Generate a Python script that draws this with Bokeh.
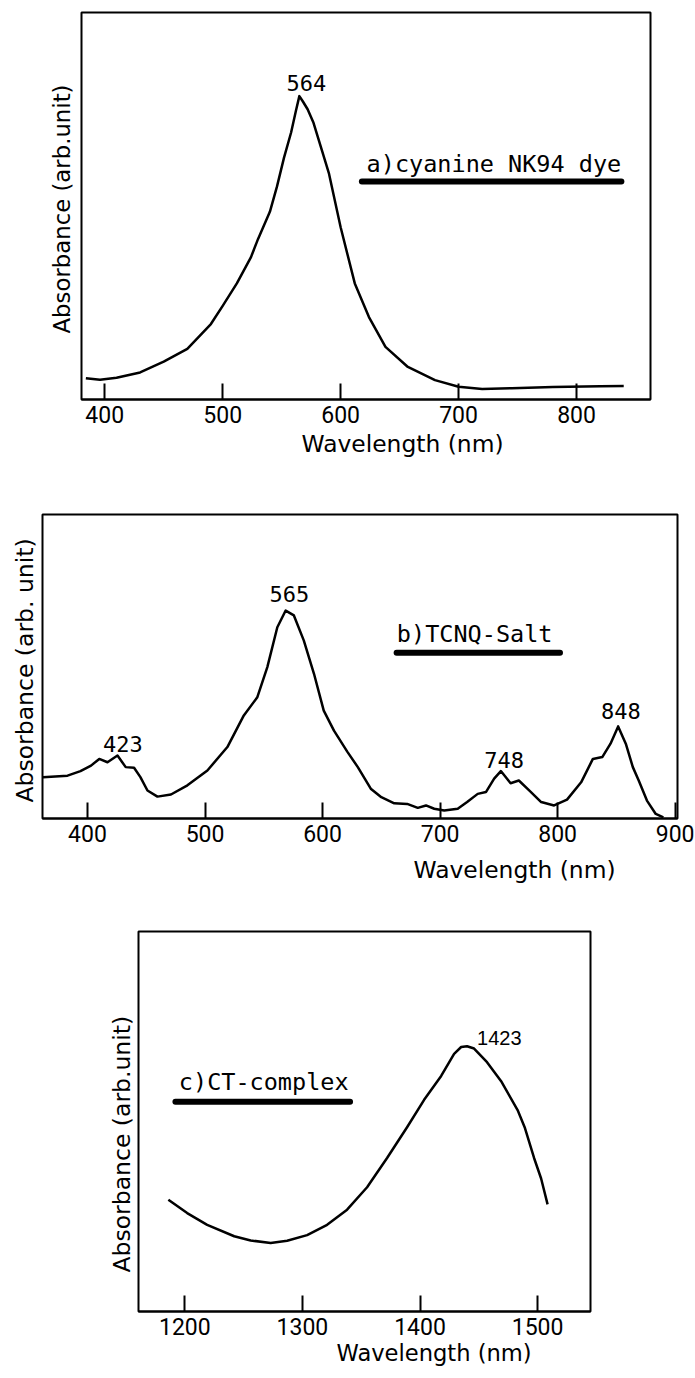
from bokeh.plotting import figure
from bokeh.models import FixedTicker, Range1d, Title, Label
from bokeh.embed import file_html
from bokeh.resources import INLINE

# ---------------- data ----------------
# a) cyanine NK94 dye
a_wl = [384, 396, 410, 430, 450, 470, 490, 500, 512, 524, 530, 540, 546, 552, 558, 562,
        565, 568, 572, 577, 584, 590, 600, 612, 624, 638, 657, 680, 700, 720, 745, 780, 820, 840]
a_abs = [0.55, 0.51, 0.56, 0.70, 0.98, 1.31, 1.95, 2.42, 3.0, 3.68, 4.15, 4.85, 5.5, 6.25, 6.9, 7.45,
         7.84, 7.7, 7.5, 7.15, 6.45, 5.85, 4.45, 3.0, 2.13, 1.36, 0.84, 0.50, 0.33, 0.27, 0.29, 0.32, 0.34, 0.35]
a_ticks = [400, 500, 600, 700, 800]
a_peaks = ["564"]
a_peak_pos = [(571, 8.19)]

# b) TCNQ-Salt
b_wl = [362, 383, 394, 403, 410, 417, 425.5, 432.5, 439.6, 445, 451, 459.5, 471, 485, 502, 519, 533,
        544.5, 553, 561.5, 568.6, 575.6, 584, 592.7, 601, 609.7, 621, 630, 641, 650, 661, 672, 681,
        688, 695, 703.5, 715, 723, 732, 739, 746, 751.7, 760, 767, 776, 786, 797, 808, 820, 830, 838,
        845, 851.5, 858, 864, 869, 876, 883.5, 890]
b_abs = [1.36, 1.41, 1.56, 1.74, 1.96, 1.85, 2.07, 1.69, 1.67, 1.36, 0.92, 0.72, 0.79, 1.09, 1.58,
         2.35, 3.39, 3.99, 4.98, 6.29, 6.84, 6.68, 5.86, 4.76, 3.55, 2.89, 2.2, 1.69, 0.98, 0.70, 0.50,
         0.48, 0.35, 0.43, 0.32, 0.26, 0.32, 0.54, 0.81, 0.87, 1.31, 1.56, 1.16, 1.25, 0.92, 0.54, 0.43,
         0.62, 1.19, 1.96, 2.02, 2.46, 3.03, 2.46, 1.69, 1.25, 0.59, 0.15, 0.04]
b_ticks = [400, 500, 600, 700, 800, 900]
b_peaks = ["565", "423", "748", "848"]
b_peak_pos = [(571.7, 7.38), (430.1, 2.46), (754.5, 1.94), (853.8, 3.54)]

# c) CT-complex
c_wl = [1186, 1202, 1219, 1242, 1256, 1273, 1287, 1304, 1321, 1338, 1355, 1372, 1389, 1403.5, 1418,
        1429, 1435, 1440, 1446, 1457, 1469, 1483, 1489, 1497, 1503, 1508.5]
c_abs = [2.94, 2.59, 2.28, 1.98, 1.87, 1.80, 1.86, 2.01, 2.28, 2.68, 3.27, 4.04, 4.85, 5.57, 6.20,
         6.78, 6.96, 6.98, 6.92, 6.56, 6.06, 5.30, 4.85, 4.04, 3.50, 2.82]
c_ticks = [1200, 1300, 1400, 1500]
c_peaks = ["1423"]
c_peak_pos = [(1467.4, 7.19)]

XTITLE = "Wavelength (nm)"
YTITLE = "Absorbance (arb.unit)"
YTITLE_B = "Absorbance (arb. unit)"

TICKFONT = "Roboto"
TITLEFONT = "DejaVu Sans"
MONO = "DejaVu Sans Mono"


def panel(width, height, borders, xr, ticks, wl, ab):
    left, right, top, bottom = borders
    p = figure(width=width, height=height, x_range=Range1d(*xr), y_range=Range1d(0, 10),
               output_backend="svg", toolbar_location=None,
               min_border_left=left, min_border_right=right,
               min_border_top=top, min_border_bottom=bottom)
    p.grid.visible = False
    p.yaxis.visible = False
    ax = p.xaxis[0]
    ax.ticker = FixedTicker(ticks=ticks, minor_ticks=[])
    ax.major_tick_in = 16
    ax.major_tick_out = 0
    ax.minor_tick_line_color = None
    ax.axis_line_width = 2
    ax.axis_line_color = "black"
    ax.major_tick_line_width = 2
    ax.major_tick_line_color = "black"
    ax.major_label_text_font = TICKFONT
    ax.major_label_text_font_size = "23px"
    ax.major_label_text_color = "black"
    ax.major_label_standoff = 6
    p.outline_line_color = "black"
    p.outline_line_width = 2
    p.outline_line_alpha = 1.0
    p.background_fill_color = "white"
    p.border_fill_color = "white"
    p.line(wl, ab, line_color="black", line_width=2.5, line_join="round")
    return p


def add_text(p, x, y, text, font, size, align="center", baseline="middle"):
    p.add_layout(Label(x=x, y=y, text=text, text_font=font, text_font_size=size,
                       text_align=align, text_baseline=baseline, text_color="black"))


def titles(p, xtext, xoff, xstand, xsize, ytext, yoff, ystand, ysize):
    p.add_layout(Title(text=xtext, align="left", offset=xoff, standoff=xstand,
                       text_font=TITLEFONT, text_font_size=xsize, text_font_style="normal",
                       text_color="black"), "below")
    p.add_layout(Title(text=ytext, align="left", offset=yoff, standoff=ystand,
                       text_font=TITLEFONT, text_font_size=ysize, text_font_style="normal",
                       text_color="black"), "left")


# ---------- panel a ----------
pa = panel(694, 475, (81, 44, 12, 76), (380.3, 862.7), a_ticks, a_wl, a_abs)
for t, (x, y) in zip(a_peaks, a_peak_pos):
    add_text(pa, x, y, t, MONO, "22px")
add_text(pa, 622, 6.09, "a)cyanine NK94 dye", MONO, "23.5px", align="left", baseline="alphabetic")
pa.line([618, 838], [5.63, 5.63], line_color="black", line_width=6, line_cap="round")
titles(pa, XTITLE, 220, 4, "23.4px", YTITLE, 66, 13, "22.8px")

# ---------- panel b ----------
pb = panel(694, 425, (42, 17, 39, 82), (361.7, 902), b_ticks, b_wl, b_abs)
for t, (x, y) in zip(b_peaks, b_peak_pos):
    add_text(pb, x, y, t, MONO, "22px")
add_text(pb, 663.2, 6.08, "b)TCNQ-Salt", MONO, "23.5px", align="left", baseline="alphabetic")
pb.line([663, 802], [5.45, 5.45], line_color="black", line_width=6, line_cap="round")
titles(pb, XTITLE, 371, 18, "23.4px", YTITLE_B, 16, 8, "23.5px")

# ---------- panel c ----------
pc = panel(694, 474, (138, 104, 31, 63), (1160.6, 1545), c_ticks, c_wl, c_abs)
for t, (x, y) in zip(c_peaks, c_peak_pos):
    add_text(pc, x, y, t, "Liberation Sans", "20px")
add_text(pc, 1194.9, 6.03, "c)CT-complex", MONO, "23.5px", align="left", baseline="alphabetic")
pc.line([1192, 1340.5], [5.52, 5.52], line_color="black", line_width=6, line_cap="round")
titles(pc, XTITLE, 198, 0, "22.6px", YTITLE, 39, 5, "23.5px")

open("out.html", "w").write(file_html([pa, pb, pc], INLINE))
